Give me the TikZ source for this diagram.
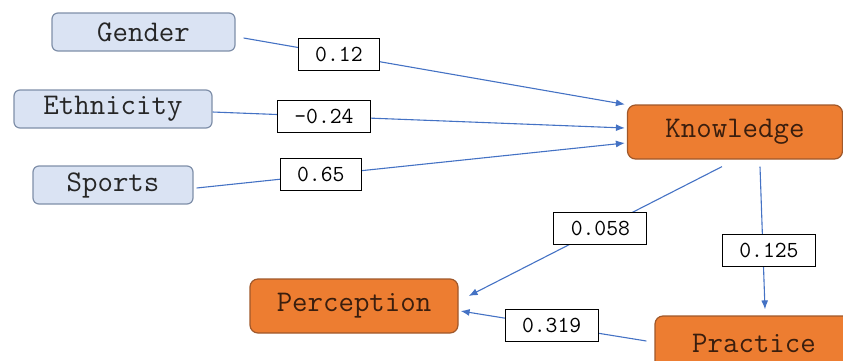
\documentclass[tikz,border=0pt]{standalone}
\usepackage{fontspec}
\usetikzlibrary{arrows.meta}
\definecolor{inbox}{HTML}{DAE3F3}
\definecolor{inedge}{HTML}{7F8FA9}
\definecolor{outbox}{HTML}{ED7D31}
\definecolor{outedge}{HTML}{A0582A}
\definecolor{outtext}{HTML}{3A1E0E}
\definecolor{linkblue}{HTML}{4472C4}
\tikzset{
  invar/.style={draw=inedge, fill=inbox, rounded corners=6pt, line width=1.2pt,
    minimum height=38pt, text=black!85, font=\ttfamily\fontsize{30}{34}\selectfont},
  outvar/.style={draw=outedge, fill=outbox, rounded corners=8pt, line width=1.2pt,
    minimum height=54pt, text=outtext, font=\ttfamily\fontsize{30}{34}\selectfont},
  coef/.style={draw=black, fill=white, line width=1pt, minimum height=32pt,
    inner xsep=17pt, font=\ttfamily\fontsize{23}{26}\selectfont},
  link/.style={draw=linkblue, line width=1.1pt, -{Latex[length=9pt,width=7pt]}}
}
\begin{document}
\begin{tikzpicture}[x=1pt,y=-1pt]
\useasboundingbox (0,0) rectangle (843,360);
\node[invar, minimum width=183pt] (gender) at (143.5,32) {Gender};
\node[invar, minimum width=198pt] (ethnicity) at (113,109) {Ethnicity};
\node[invar, minimum width=160pt] (sports) at (113,185) {Sports};
\node[outvar, minimum width=215pt] (knowledge) at (735,132) {Knowledge};
\node[outvar, minimum width=208pt] (perception) at (354,306) {Perception};
\node[outvar, minimum width=198pt] (practice) at (754,343) {Practice};
\draw[link] ([xshift=8pt,yshift=-6pt]gender.east) -- ([xshift=-2pt]knowledge.north west)
  node[coef, pos=0.25] (wgender) {0.12};
\draw[link] ([yshift=-3pt]ethnicity.east) -- ([xshift=-2pt,yshift=4pt]knowledge.west)
  node[coef, pos=0.27] (wethnicity) {-0.24};
\draw[link] ([xshift=3pt,yshift=-3pt]sports.east) -- ([xshift=-2pt,yshift=-11pt]knowledge.west)
  node[coef, pos=0.29] (wsports) {0.65};
\draw[link] ([xshift=-13pt,yshift=-7pt]knowledge.south) -- ([xshift=10pt,yshift=10pt]perception.east)
  node[coef, pos=0.48] (wperception) {0.058};
\draw[link] ([xshift=25pt,yshift=-7pt]knowledge.south) -- ([xshift=11pt,yshift=6pt]practice.north)
  node[coef, pos=0.59, xshift=6pt] (wpractice) {0.125};
\draw[link] ([xshift=-8pt,yshift=2pt]practice.west) -- ([xshift=2pt,yshift=-5pt]perception.east)
  node[coef, pos=0.51] (wpractperc) {0.319};
\end{tikzpicture}
\end{document}
